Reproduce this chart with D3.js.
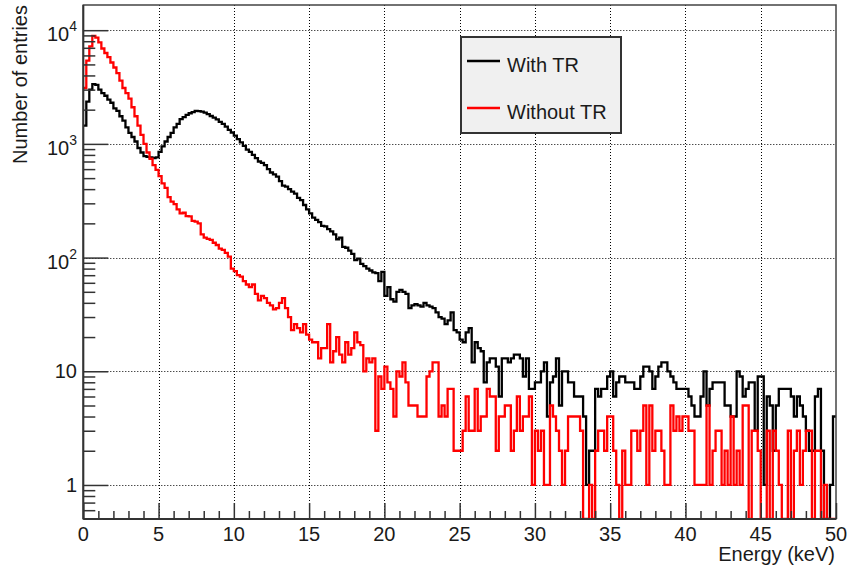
<!DOCTYPE html>
<html>
<head>
<meta charset="utf-8">
<script src="https://cdn.jsdelivr.net/npm/d3@7"></script>
<style>
body { margin: 0; background: #fff; }
text { font-family: "Liberation Sans", Arial, Helvetica, sans-serif; fill: #1a1a1a; }
</style>
</head>
<body>
<div id="chart"></div>
<script>
// 250 bins of 0.2 keV from 0 to 50 keV
var binWidth = 0.2;

var withTR = [
  1450, 2350, 3000, 3350, 3300, 3000, 2800, 2650, 2450, 2300,
  2050, 1950, 1750, 1600, 1400, 1250, 1150, 1050, 920, 840,
  780, 770, 760, 750, 760, 850, 950, 1050, 1150, 1250,
  1400, 1500, 1650, 1720, 1800, 1860, 1900, 1950, 1940, 1920,
  1880, 1830, 1760, 1700, 1640, 1560, 1500, 1420, 1330, 1260,
  1180, 1100, 1030, 960, 890, 850, 800, 750, 700, 680,
  650, 600, 560, 540, 515, 470, 430, 420, 400, 380,
  365, 335, 320, 290, 265, 245, 225, 215, 205, 190,
  188, 178, 170, 160, 145, 150, 124, 122, 115, 108,
  95, 98, 88, 84, 80, 77, 74, 73, 62, 75,
  46, 55, 43, 41, 50, 52, 50, 48, 36, 38,
  39, 38, 37, 40, 38,
  37, 36, 33, 30, 29, 26, 28, 33, 23, 22,
  19, 18, 22, 24, 12, 18, 16, 15, 8, 12,
  13, 13, 11, 6, 13, 13, 12, 13, 14, 14,
  13, 9, 13, 7, 7, 8, 8, 10, 12, 4,
  8, 9, 13, 5, 10, 10, 8, 8, 6, 6,
  6, 4, 1, 2, 2, 7, 6, 7, 7, 9,
  10, 6, 8, 9, 9, 8, 8, 8, 7, 7,
  9, 11, 11, 10, 7, 9, 11, 12, 12, 10,
  9, 8, 7, 7, 7, 7, 6, 5, 4, 4,
  6, 10, 5, 7, 8, 8, 8, 8, 5, 5,
  4, 4, 10, 9, 6, 7, 8, 8, 3, 9,
  9, 1, 6, 5, 2, 5, 7, 7, 7, 7,
  6, 4, 6, 5, 4, 3, 2, 2, 6, 7,
  2, 0, 0, 1, 4
];

var withoutTR = [
  3100, 5400, 7200, 8900, 8600, 7800, 6900, 6300, 5800, 5200,
  4700, 4200, 3600, 3100, 2800, 2500, 2100, 1750, 1450, 1200,
  1000, 840, 740, 650, 590, 520, 450, 410, 340, 310,
  295, 265, 245, 248, 232, 230, 210, 207, 200, 160,
  150, 146, 143, 135, 129, 120, 117, 110, 102, 80,
  76, 70, 68, 62, 58, 55, 58, 48, 42, 46,
  44, 40, 38, 35, 36, 40, 44, 36, 30, 23,
  26, 24, 22, 26, 21, 19, 18, 18, 13, 16,
  16, 26, 12, 15, 20, 14, 12, 18, 14, 16,
  22, 18, 17, 10, 13, 12, 13, 3, 9, 7,
  11, 8, 7, 4, 10, 9, 12, 8, 5, 5,
  5, 4, 4, 4, 9,
  10, 12, 12, 4, 5, 4, 7, 7, 2, 2,
  2, 3, 6, 3, 3, 7, 3, 4, 4, 7,
  6, 6, 2, 4, 4, 5, 5, 2, 3, 6,
  3, 4, 4, 6, 1, 3, 2, 3, 1, 1,
  5, 4, 3, 2, 1, 2, 4, 4, 4, 4,
  3, 0, 0, 1, 0, 2, 3, 3, 2, 4,
  4, 2, 1, 0, 2, 1, 1, 3, 3, 2,
  3, 5, 1, 5, 2, 3, 3, 2, 1, 1,
  5, 3, 4, 3, 4, 4, 3, 3, 1, 1,
  1, 1, 5, 1, 2, 3, 3, 1, 2, 1,
  4, 1, 2, 1, 5, 5, 0, 3, 3, 2,
  0, 0, 3, 0, 3, 2, 1, 0, 0, 3,
  0, 2, 3, 1, 2, 3, 3, 0, 2, 2,
  0, 1, 0, 0, 0
];

var xTickValues = [0, 5, 10, 15, 20, 25, 30, 35, 40, 45, 50];
var yTickValues = [1, 10, 100, 1000, 10000];
var yTickBase = ["1", "10", "10", "10", "10"];
var yTickExp = ["", "", "2", "3", "4"];
var seriesNames = ["With TR", "Without TR"];
var seriesColors = ["#000000", "#ff0000"];

var W = 848, H = 569;
var frameL = 83.3, frameR = 836, frameT = 5, frameB = 519;

var svg = d3.select("#chart")
  .append("svg")
    .attr("width", W)
    .attr("height", H);

var x = d3.scaleLinear()
  .domain([0, 50])
  .range([frameL, frameR]);

var y = d3.scaleLog()
  .domain([0.502, 16657])
  .range([frameB, frameT]);

svg.append("defs").append("clipPath")
    .attr("id", "frame")
  .append("rect")
    .attr("x", frameL)
    .attr("y", frameT)
    .attr("width", frameR - frameL)
    .attr("height", frameB - frameT);

// grid
var grid = svg.append("g")
  .attr("stroke", "#000")
  .attr("stroke-width", 1)
  .attr("stroke-dasharray", "1,2");
grid.selectAll(".gx")
  .data(xTickValues.slice(1, -1))
  .enter().append("line")
    .attr("x1", function(d) { return Math.round(x(d)) + 0.5 })
    .attr("x2", function(d) { return Math.round(x(d)) + 0.5 })
    .attr("y1", frameT)
    .attr("y2", frameB);
grid.selectAll(".gy")
  .data(yTickValues)
  .enter().append("line")
    .attr("x1", frameL)
    .attr("x2", frameR)
    .attr("y1", function(d) { return Math.round(y(d)) + 0.5 })
    .attr("y2", function(d) { return Math.round(y(d)) + 0.5 });

// histograms
var ymin = y.domain()[0];
var stepLine = d3.line()
  .curve(d3.curveStepAfter)
  .x(function(d) { return x(d[0]) })
  .y(function(d) { return y(Math.max(d[1], ymin)) });

function binPoints(values) {
  var pts = values.map(function(v, i) { return [i * binWidth, v] });
  pts.push([values.length * binWidth, values[values.length - 1]]);
  return pts;
}

var plot = svg.append("g").attr("clip-path", "url(#frame)");
[withTR, withoutTR].forEach(function(values, i) {
  plot.append("path")
    .datum(binPoints(values))
    .attr("fill", "none")
    .attr("stroke", seriesColors[i])
    .attr("stroke-width", 2.3)
    .attr("d", stepLine);
});

// frame
svg.append("rect")
  .attr("x", frameL)
  .attr("y", frameT)
  .attr("width", frameR - frameL)
  .attr("height", frameB - frameT)
  .attr("fill", "none")
  .attr("stroke", "#444")
  .attr("stroke-width", 1.5);

// axes (ticks point inward)
var xMinor = d3.range(0, 51, 1).filter(function(d) { return d % 5 != 0 });
var yMinor = [];
[-1, 0, 1, 2, 3, 4].forEach(function(p) {
  for (var m = 2; m <= 9; m++) {
    var v = m * Math.pow(10, p);
    if (v > y.domain()[0] && v < y.domain()[1]) yMinor.push(v);
  }
});

function styleAxis(g) {
  g.select(".domain").remove();
  g.selectAll("line").attr("stroke", "#333").attr("stroke-width", 1.5);
}

svg.append("g")
  .attr("transform", "translate(0," + frameB + ")")
  .call(d3.axisBottom(x).tickValues(xTickValues).tickSize(-16).tickFormat(""))
  .call(styleAxis);
svg.append("g")
  .attr("transform", "translate(0," + frameB + ")")
  .call(d3.axisBottom(x).tickValues(xMinor).tickSize(-8).tickFormat(""))
  .call(styleAxis);
svg.append("g")
  .attr("transform", "translate(" + frameL + ",0)")
  .call(d3.axisLeft(y).tickValues(yTickValues).tickSize(-25).tickFormat(""))
  .call(styleAxis);
svg.append("g")
  .attr("transform", "translate(" + frameL + ",0)")
  .call(d3.axisLeft(y).tickValues(yMinor).tickSize(-12).tickFormat(""))
  .call(styleAxis);

// axis lines
svg.append("line")
  .attr("x1", frameL).attr("x2", frameL).attr("y1", frameT).attr("y2", frameB)
  .attr("stroke", "#333").attr("stroke-width", 2);
svg.append("line")
  .attr("x1", frameL).attr("x2", frameR).attr("y1", frameB).attr("y2", frameB)
  .attr("stroke", "#333").attr("stroke-width", 2);

// tick labels
svg.selectAll(".xl")
  .data(xTickValues)
  .enter().append("text")
    .attr("x", function(d) { return x(d) })
    .attr("y", 541)
    .attr("text-anchor", "middle")
    .attr("font-size", 20)
    .text(function(d) { return d });

var yl = svg.selectAll(".yl")
  .data(yTickValues)
  .enter().append("text")
    .attr("x", 77)
    .attr("y", function(d, i) { return y(d) + (yTickExp[i] ? 11 : 7) })
    .attr("text-anchor", "end")
    .attr("font-size", 20);
yl.append("tspan").text(function(d, i) { return yTickBase[i] });
yl.append("tspan")
  .attr("dy", -10)
  .attr("font-size", 14)
  .text(function(d, i) { return yTickExp[i] });

// axis titles
svg.append("text")
  .attr("x", 835)
  .attr("y", 561)
  .attr("text-anchor", "end")
  .attr("font-size", 20)
  .text("Energy (keV)");
svg.append("text")
  .attr("transform", "translate(27," + frameT + ") rotate(-90)")
  .attr("text-anchor", "end")
  .attr("font-size", 20)
  .text("Number of entries");

// legend
var legend = svg.append("g");
legend.append("rect")
  .attr("x", 461)
  .attr("y", 37)
  .attr("width", 160)
  .attr("height", 96)
  .attr("fill", "#f0f0f0")
  .attr("stroke", "#333")
  .attr("stroke-width", 2);
seriesNames.forEach(function(name, i) {
  var ly = 61 + i * 47;
  legend.append("line")
    .attr("x1", 467).attr("x2", 500)
    .attr("y1", ly).attr("y2", ly)
    .attr("stroke", seriesColors[i])
    .attr("stroke-width", 2.3);
  legend.append("text")
    .attr("x", 507)
    .attr("y", ly + 10.5)
    .attr("font-size", 20)
    .text(name);
});
</script>
</body>
</html>
